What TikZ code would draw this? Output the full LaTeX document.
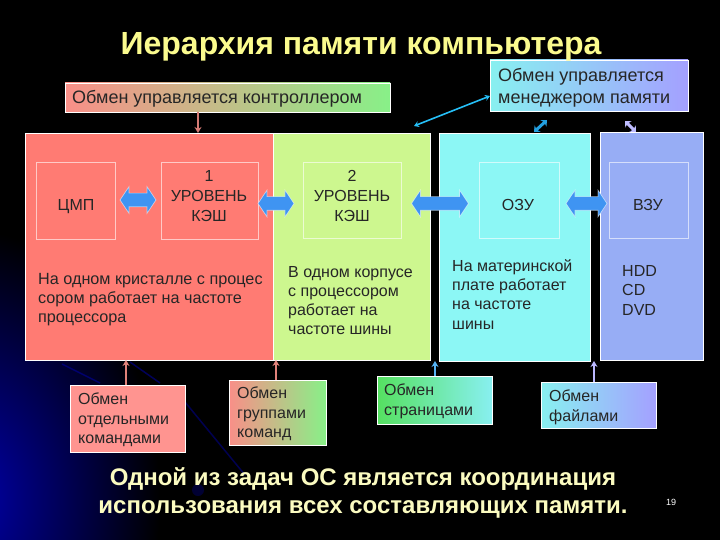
\documentclass[tikz,border=0pt]{standalone}
\usepackage{fontspec}
\setmainfont{Liberation Sans}
\usetikzlibrary{shapes.arrows,calc,arrows.meta}
\definecolor{cRed}{HTML}{FF7B73}
\definecolor{cGrn}{HTML}{CDF78F}
\definecolor{cCya}{HTML}{8CF7F5}
\definecolor{cBlu}{HTML}{97ADF5}
\definecolor{cArr}{HTML}{3F94F2}
\definecolor{cTitle}{HTML}{FBFB8E}
\definecolor{cFoot}{HTML}{FBFBC0}
\definecolor{cPink}{HTML}{FF9490}
\definecolor{cSalm}{HTML}{F98F88}
\definecolor{cLGrn}{HTML}{88F088}
\definecolor{cLCya}{HTML}{88F0F0}
\definecolor{cPeri}{HTML}{A4A0FF}
\definecolor{cPage}{HTML}{55E060}
\definecolor{cDeep}{HTML}{0000A8}
\tikzset{
  panel/.style={draw=white,line width=.8pt,inner sep=0,outer sep=0,anchor=north west},
  innerbox/.style={draw=white,draw opacity=.6,line width=.8pt,inner sep=0,outer sep=0,anchor=north west},
  note/.style={draw=white,line width=.8pt,inner sep=0,outer sep=0,anchor=north west},
  txt/.style={font=\fontsize{16}{19.5}\selectfont,align=left,inner sep=0,anchor=north west,text=black!85},
  ctxt/.style={font=\fontsize{16}{19.6}\selectfont,align=center,inner sep=0,text=black!85},
  bus/.style={shape=double arrow,fill=cArr,draw=white,draw opacity=.55,line width=.7pt,
     double arrow head extend=6.5pt,double arrow tip angle=112,
     minimum width=26pt,inner xsep=0pt,inner ysep=6.5pt,outer sep=0},
  tick/.style={line width=2.2pt,-{Stealth[length=6pt,width=7pt]}},
  tick2/.style={line width=1.6pt,{Stealth[length=5pt,width=6pt]}-{Stealth[length=5pt,width=6pt]}},
  stub/.style={line width=3pt,{Stealth[length=5pt,width=9pt]}-{Stealth[length=5pt,width=9pt]}}
}
\begin{document}
\begin{tikzpicture}[x=1pt,y=-1pt]
\useasboundingbox (0,0) rectangle (720,540);
\fill[black] (0,0) rectangle (720,540);
% background glow
\begin{scope}
\clip (0,0) rectangle (720,540);
\shade[inner color=cDeep,outer color=black] (-30,500) ellipse (190 and 270);
\draw[blue!55!black,line width=1.5pt,opacity=.7] (62,364) -- (100,383);
\draw[blue!50!black,line width=1.5pt,opacity=.7] (130,362) -- (160,383);
\draw[blue!45!black,line width=1.5pt,opacity=.7] (185,402) -- (245,475);
\fill[blue!50!black,opacity=.4] (198,490) circle (6);
\end{scope}
% panels
\node[panel,fill=cRed,minimum width=248pt,minimum height=227pt] (red) at (25,133) {};
\node[panel,fill=cGrn,minimum width=157pt,minimum height=227pt] (grn) at (273,133) {};
\node[panel,fill=cCya,minimum width=151pt,minimum height=228pt] (cya) at (439,133) {};
\node[panel,fill=cBlu,minimum width=103pt,minimum height=228pt] (blu) at (600,132) {};
% inner boxes
\node[innerbox,minimum width=79pt,minimum height=77pt] (cpu) at (36,162) {};
\node[innerbox,minimum width=97pt,minimum height=77pt] (lone) at (161,162) {};
\node[innerbox,minimum width=98pt,minimum height=76pt] (ltwo) at (303,162) {};
\node[innerbox,minimum width=80pt,minimum height=76pt] (ram) at (479,162) {};
\node[innerbox,minimum width=79pt,minimum height=76pt] (ext) at (609,162) {};
\node[ctxt] (tcpu) at (76,207) {ЦМП};
\node[ctxt] (tone) at (209,196) {1\\УРОВЕНЬ\\КЭШ};
\node[ctxt] (ttwo) at (352,196) {2\\УРОВЕНЬ\\КЭШ};
\node[ctxt] (tram) at (518,205) {ОЗУ};
\node[ctxt] (text) at (648,205) {ВЗУ};
% bus arrows
\node[bus,minimum height=36pt] (b1) at ($(cpu.east)!.5!(lone.west)+(0,-.5)$) {};
\node[bus,minimum height=36pt] (b2) at (276,203.5) {};
\node[bus,minimum height=57pt] (b3) at (440,203.5) {};
\node[bus,minimum height=41pt] (b4) at (586.5,203.5) {};
% panel texts
\node[txt,font=\fontsize{16.2}{19}\selectfont] (t1) at (38,273) {На одном кристалле с процес\\сором работает на частоте\\процессора};
\node[txt,font=\fontsize{16}{19.2}\selectfont] (t2) at (288,266) {В одном корпусе\\с процессором\\работает на\\частоте шины};
\node[txt,font=\fontsize{16}{19.4}\selectfont] (t3) at (452,259) {На материнской\\плате работает\\на частоте\\шины};
\node[txt,font=\fontsize{16}{19.5}\selectfont] (t4) at (622,265) {HDD\\CD\\DVD};
% notes
\node[note,left color=cSalm,right color=cLGrn,minimum width=325pt,minimum height=29pt] (ctrl) at (65,83) {};
\node[txt,font=\fontsize{18}{22}\selectfont] (tctrl) at (72,90) {Обмен управляется контроллером};
\node[note,left color=cLCya,right color=cPeri,minimum width=198pt,minimum height=51pt] (mgr) at (490,60) {};
\node[txt,font=\fontsize{18}{22}\selectfont] (tmgr) at (498,68) {Обмен управляется\\менеджером памяти};
\node[note,fill=cPink,minimum width=115pt,minimum height=67pt] (cmd) at (70,385) {};
\node[txt] (tcmd) at (78,393) {Обмен\\отдельными\\командами};
\node[note,left color=cSalm,right color=cLGrn,minimum width=97pt,minimum height=65pt] (grp) at (229,380) {};
\node[txt] (tgrp) at (237,387) {Обмен\\группами\\команд};
\node[note,left color=cPage,right color=cLCya,minimum width=115pt,minimum height=48pt] (pag) at (377,376) {};
\node[txt] (tpag) at (384,384) {Обмен\\страницами};
\node[note,left color=cLCya,right color=cPeri,minimum width=115pt,minimum height=46pt] (fil) at (541,382) {};
\node[txt] (tfil) at (549,390) {Обмен\\файлами};
% small arrows
\coordinate (a1) at (ctrl.south -| 198,0);
\coordinate (a2) at (red.north -| 198,0);
\draw[tick,draw=cSalm!85!black] (a1) -- (a2);
\coordinate (m1) at (490,96);
\coordinate (m2) at (414,126);
\draw[tick2,draw=cArr!60!cyan] (m1) -- (m2);
\coordinate (m3) at (547,120);
\coordinate (m4) at (534,132);
\draw[stub,draw=cyan!60!cArr] (m3) -- (m4);
\coordinate (m5) at (625,121);
\coordinate (m6) at (636,132);
\draw[stub,draw=cPeri!70!white] (m5) -- (m6);
\draw[tick,draw=cSalm!90!black] (cmd.north -| 126,0) -- (red.south -| 126,0);
\draw[tick,draw=cSalm!90!black] (grp.north -| 276,0) -- (red.south -| 276,0);
\draw[tick,draw=cArr!70!cCya] (pag.north -| 435,0) -- (cya.south -| 435,0);
\draw[tick,draw=cPeri!75!white] (fil.north -| 594,0) -- (cya.south -| 594,0);
% titles
\node[font=\bfseries\fontsize{32}{36}\selectfont,text=cTitle,inner sep=0] (title) at (361,47) {Иерархия памяти компьютера};
\node[font=\bfseries\fontsize{24}{28}\selectfont,text=cFoot,align=center,inner sep=0] (foot) at (363,493) {Одной из задач ОС является координация\\использования всех составляющих памяти.};
\node[font=\fontsize{9}{10}\selectfont,text=white,inner sep=0] (page) at (671,502) {19};
\end{tikzpicture}
\end{document}
